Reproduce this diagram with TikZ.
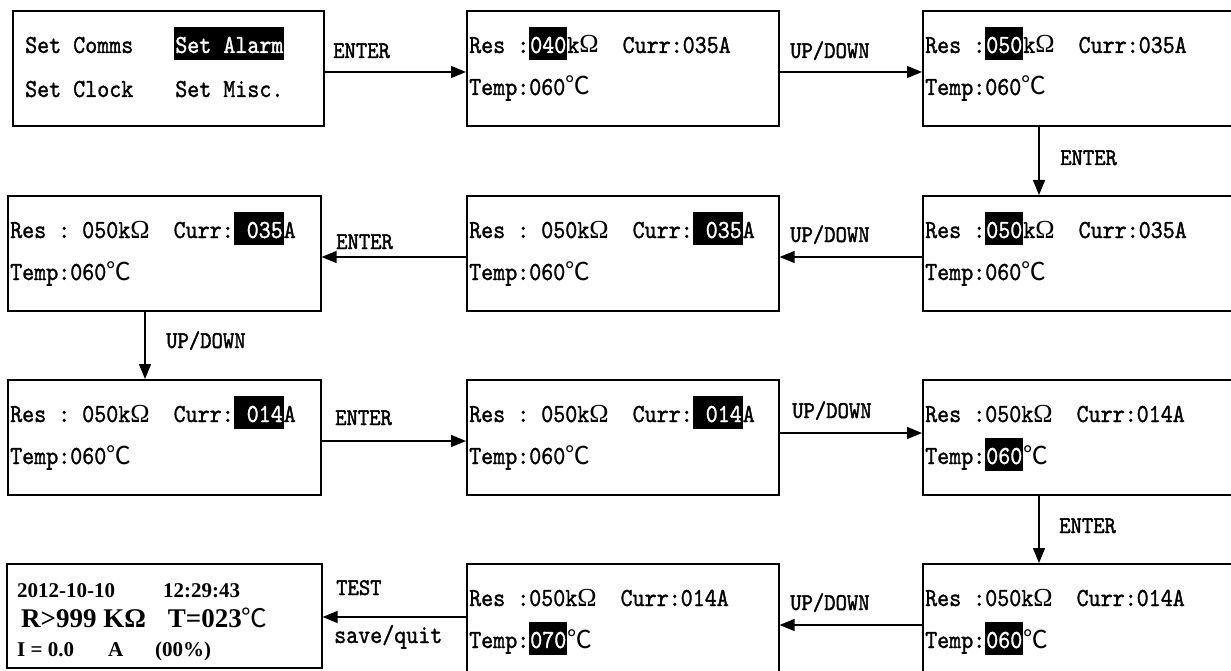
\documentclass[tikz,border=0pt]{standalone}
\usepackage{fontspec}
\setmainfont{Liberation Serif}
\newfontfamily\lcdfont[FakeStretch=0.88,FakeBold=1.2]{lmmono10-regular.otf}
\newfontfamily\keyfont[FakeStretch=0.9,FakeBold=1.6]{lmmono10-regular.otf}
\newfontfamily\cjk[Scale=0.95]{Noto Sans CJK SC}
\usetikzlibrary{arrows.meta}
\newcommand\hl[1]{{\setlength\fboxsep{0pt}\colorbox{black}{\rule[-7pt]{0pt}{33pt}\kern1pt\textcolor{white}{#1}\kern1pt}}}
\newcommand\degc{{\cjk\mdseries ℃}}
\newcommand\ohm{{\rmfamily Ω}}
\tikzset{
  screen/.style={draw, line width=1.6pt, inner sep=0pt, anchor=north west,
    minimum width=312pt, minimum height=115pt},
  lcd/.style={anchor=base west, inner sep=0pt, font=\lcdfont\fontsize{26}{26}\selectfont},
  key/.style={anchor=base west, inner sep=0pt, font=\keyfont\fontsize{24}{24}\selectfont},
  flow/.style={line width=1.4pt, -{Triangle[length=15pt,width=12pt]}},
  big/.style={anchor=base west, inner sep=0pt, font=\bfseries\fontsize{#1}{#1}\selectfont},
}

\begin{document}
\begin{tikzpicture}[x=1pt,y=-1pt]
    \useasboundingbox (0,0) rectangle (1231,671);
    \clip (0,0) rectangle (1231,671);
    % Menu screen
    \node[screen, minimum width=311pt] (s1) at (12,10) {};
    \node[lcd] (s1-1) at ([shift={(13,43)}]s1.north west) {Set Comms\hspace{41pt}\hl{Set Alarm}};
    \node[lcd] (s1-2) at ([shift={(13,87)}]s1.north west) {Set Clock\hspace{42pt}Set Misc.};
    % Setting screens
    \foreach \n/\px/\py/\w/\ta/\tb in {
      s2/466/10/312/{Res~:\hl{040}k\ohm~~Curr:035A}/{Temp:060\degc},
      s3/922/10/340/{Res~:\hl{050}k\ohm~~Curr:035A}/{Temp:060\degc},
      s6/922/195/340/{Res~:\hl{050}k\ohm~~Curr:035A}/{Temp:060\degc},
      s5/466/195/312/{Res~:~050k\ohm~~Curr:\hl{~035}A}/{Temp:060\degc},
      s4/7/195/313/{Res~:~050k\ohm~~Curr:\hl{~035}A}/{Temp:060\degc},
      s7/7/379/313/{Res~:~050k\ohm~~Curr:\hl{~014}A}/{Temp:060\degc},
      s8/466/379/312/{Res~:~050k\ohm~~Curr:\hl{~014}A}/{Temp:060\degc},
      s9/922/379/340/{Res~:050k\ohm~~Curr:014A}/{Temp:\hl{060}\degc},
      s10/922/563/340/{Res~:050k\ohm~~Curr:014A}/{Temp:\hl{060}\degc},
      s11/466/563/312/{Res~:050k\ohm~~Curr:014A}/{Temp:\hl{070}\degc}}{
      \node[screen, minimum width=\w pt] (\n) at (\px,\py) {};
      \node[lcd] (\n-1) at ([shift={(3,43)}]\n.north west) {\ta};
      \node[lcd] (\n-2) at ([shift={(3,85)}]\n.north west) {\tb};
    }
    % Test screen
    \node[screen, minimum width=315pt, minimum height=104pt] (s12) at (6,563) {};
    \node[big=21] (s12-1) at ([shift={(11,34)}]s12.north west) {2012-10-10\hspace{48pt}12:29:43};
    \node[big=27] (s12-2) at ([shift={(15,64)}]s12.north west) {R>999 K\ohm\hspace{22pt}T=023\degc};
    \node[big=21] (s12-3) at ([shift={(11,93)}]s12.north west) {I = 0.0\hspace{34pt}A\hspace{32pt}(00\%)};
    % Keys
    \draw[flow] ([yshift=-62pt]s1.north east) -- ([yshift=-62pt]s2.north west);
    \draw[flow] ([yshift=-62pt]s2.north east) -- ([yshift=-62pt]s3.north west);
    \draw[flow] ([xshift=117pt]s3.south west) -- ([xshift=117pt]s6.north west);
    \draw[flow] ([yshift=-62pt]s6.north west) -- ([yshift=-62pt]s5.north east);
    \draw[flow] ([yshift=-62pt]s5.north west) -- ([yshift=-62pt]s4.north east);
    \draw[flow] ([xshift=138pt]s4.south west) -- ([xshift=138pt]s7.north west);
    \draw[flow] ([yshift=-62pt]s7.north east) -- ([yshift=-62pt]s8.north west);
    \draw[flow] ([yshift=-54pt]s8.north east) -- ([yshift=-54pt]s9.north west);
    \draw[flow] ([xshift=117pt]s9.south west) -- ([xshift=117pt]s10.north west);
    \draw[flow] ([yshift=-62pt]s10.north west) -- ([yshift=-62pt]s11.north east);
    \draw[flow] ([yshift=-54pt]s11.north west) -- ([yshift=-54pt]s12.north east);
    \node[key] (k1) at (333,58) {ENTER};
    \node[key] (k2) at (790,58) {UP/DOWN};
    \node[key] (k3) at (1060,165) {ENTER};
    \node[key] (k4) at (790,242) {UP/DOWN};
    \node[key] (k5) at (336,249) {ENTER};
    \node[key] (k6) at (166,348) {UP/DOWN};
    \node[key] (k7) at (335,425) {ENTER};
    \node[key] (k8) at (792,418) {UP/DOWN};
    \node[key] (k9) at (1059,533) {ENTER};
    \node[key] (k10) at (790,610) {UP/DOWN};
    \node[key] (k11) at (336,595) {TEST};
    \node[lcd] (k12) at (334,643) {save/quit};
\end{tikzpicture}
\end{document}
